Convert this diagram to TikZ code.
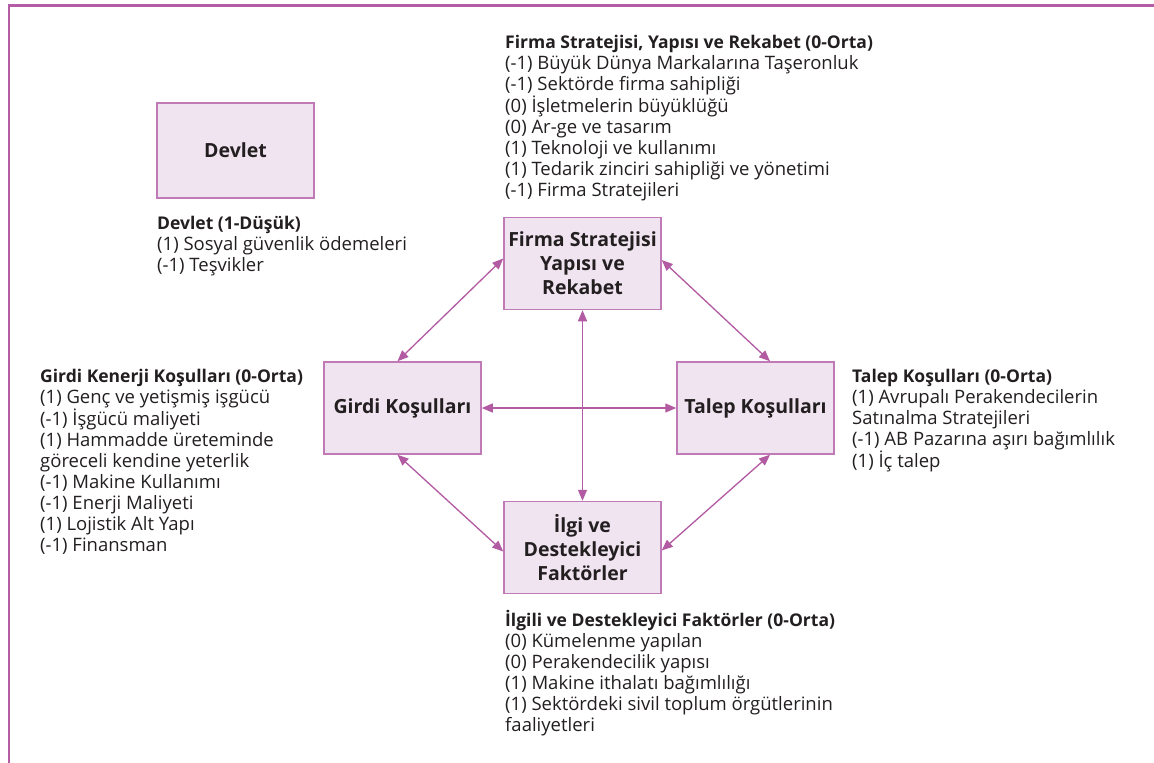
\documentclass[tikz,border=0pt]{standalone}
\usepackage{fontspec}
\setmainfont{Open Sans}
\usetikzlibrary{arrows.meta}
\definecolor{framecol}{HTML}{B45CA6}
\definecolor{boxfill}{HTML}{F0E4F0}
\definecolor{boxline}{HTML}{C07AB6}
\definecolor{linkcol}{HTML}{B25AA2}
\definecolor{ink}{HTML}{231F20}
% fixed first-line height so a note's top sits 18pt above its first baseline
\newcommand\firstline{\rule{0pt}{18pt}}
\newcommand\notetitle[1]{\firstline{\fontsize{17.5}{21}\selectfont\bfseries #1}}
\begin{document}
\begin{tikzpicture}[x=1pt,y=-1pt,
  factor/.style={draw=boxline, fill=boxfill, line width=1.5pt,
    minimum width=157pt, minimum height=92pt, inner sep=0pt, align=center,
    font=\fontsize{19.5}{24}\selectfont\bfseries, text=ink},
  note/.style={anchor=north west, align=left, inner sep=0pt,
    font=\fontsize{18.5}{21}\selectfont, text=ink},
  link/.style={draw=linkcol, line width=1.3pt,
    {Triangle[length=11pt,width=9pt]}-{Triangle[length=11pt,width=9pt]}}]
\useasboundingbox (0,0) rectangle (1154,763);
\fill[white] (0,0) rectangle (1154,763);
% outer frame: top and left rules
\draw[framecol, line width=2.2pt] (9,763) -- (9,5.5) -- (1154,5.5);

% the five factor boxes
\node[factor, minimum height=95pt] (devlet) at (235.5,150.5) {Devlet};
\node[factor] (firma) at (582.5,263.5) {Firma Stratejisi\\Yapısı ve\\Rekabet};
\node[factor] (girdi) at (402.5,408) {Girdi Koşulları};
\node[factor] (talep) at (755.5,408) {Talep Koşulları};
\node[factor] (ilgi) at (582.5,547.5) {İlgi ve\\Destekleyici\\Faktörler};

% notes beside each box (node y = first baseline - 18)
\node[note] (devletnote) at (157,211) {\notetitle{Devlet (1-Düşük)}\\(1) Sosyal güvenlik ödemeleri\\(-1) Teşvikler};
\node[note] (firmanote) at (505,30) {\notetitle{Firma Stratejisi, Yapısı ve Rekabet (0-Orta)}\\(-1) Büyük Dünya Markalarına Taşeronluk\\(-1) Sektörde firma sahipliği\\(0) İşletmelerin büyüklüğü\\(0) Ar-ge ve tasarım\\(1) Teknoloji ve kullanımı\\(1) Tedarik zinciri sahipliği ve yönetimi\\(-1) Firma Stratejileri};
\node[note] (girdinote) at (40,364) {\notetitle{Girdi Kenerji Koşulları (0-Orta)}\\(1) Genç ve yetişmiş işgücü\\(-1) İşgücü maliyeti\\(1) Hammadde üreteminde\\göreceli kendine yeterlik\\(-1) Makine Kullanımı\\(-1) Enerji Maliyeti\\(1) Lojistik Alt Yapı\\(-1) Finansman};
\node[note] (talepnote) at (852,364) {\notetitle{Talep Koşulları (0-Orta)}\\(1) Avrupalı Perakendecilerin\\Satınalma Stratejileri\\(-1) AB Pazarına aşırı bağımlılık\\(1) İç talep};
\node[note] (ilginote) at (505,608) {\notetitle{İlgili ve Destekleyici Faktörler (0-Orta)}\\(0) Kümelenme yapılan\\(0) Perakendecilik yapısı\\(1) Makine ithalatı bağımlılığı\\(1) Sektördeki sivil toplum örgütlerinin\\faaliyetleri};

% two-way links of the diamond
\draw[link] ([yshift=5pt]firma.west) -- ([xshift=-5pt]girdi.north);
\draw[link] ([yshift=3.5pt]firma.east) -- ([xshift=14.5pt]talep.north);
\draw[link] ([xshift=-5pt]girdi.south) -- ([yshift=-4pt]ilgi.west);
\draw[link] ([xshift=14.5pt]talep.south) -- ([yshift=-3pt]ilgi.east);
\draw[link] (girdi.east) -- (talep.west);
\draw[link] (firma.south) -- (ilgi.north);
\end{tikzpicture}
\end{document}
